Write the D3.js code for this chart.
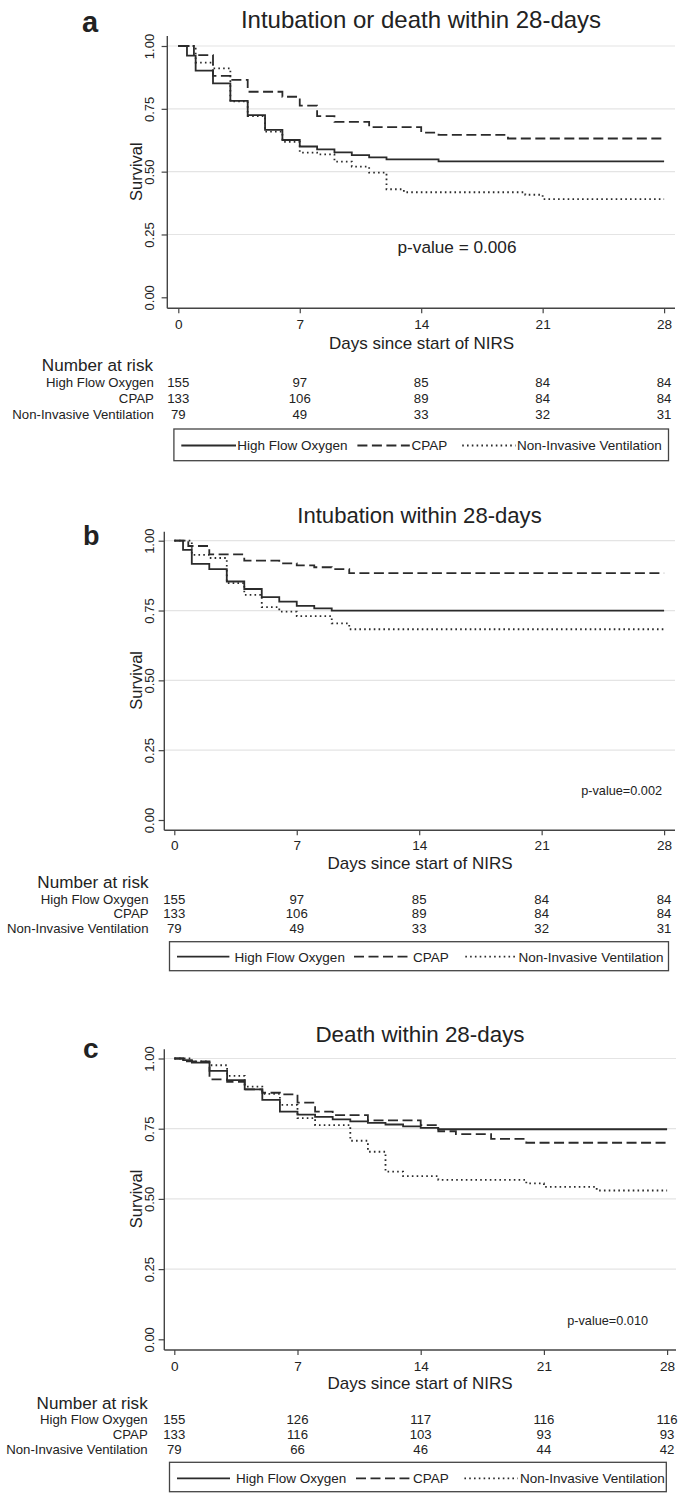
<!DOCTYPE html>
<html><head><meta charset="utf-8">
<script src="https://cdn.jsdelivr.net/npm/d3@7"></script>
<style>
html,body{margin:0;padding:0;background:#fff;}
svg{display:block;}
text{font-family:"Liberation Sans",Arial,sans-serif;fill:#222;}
</style></head>
<body>
<script>
// ---------------- DATA ----------------
const groups = ["High Flow Oxygen", "CPAP", "Non-Invasive Ventilation"];
const xTicks = [0, 7, 14, 21, 28];
const yTicks = [0, 0.25, 0.5, 0.75, 1];
const panelLetters = ["a", "b", "c"];
const panelTitles = ["Intubation or death within 28-days", "Intubation within 28-days", "Death within 28-days"];
const pValues = ["p-value = 0.006", "p-value=0.002", "p-value=0.010"];
const xLabel = "Days since start of NIRS";
const yLabel = "Survival";
const riskTitle = "Number at risk";

// Panel a: intubation or death
const hfoA  = [[0,1],[0.5,0.962],[1,0.902],[2,0.851],[3,0.782],[4,0.725],[5,0.666],[6,0.626],[7,0.600],[8,0.589],[9,0.577],[10,0.566],[11,0.557],[12,0.549],[15,0.541]];
const cpapA = [[0,1],[0.9,0.964],[2,0.881],[3,0.865],[4,0.818],[6,0.798],[7,0.763],[8,0.721],[9,0.698],[11,0.677],[14,0.655],[15,0.646],[19,0.632]];
const nivA  = [[0,1],[1,0.934],[2,0.911],[3,0.780],[4,0.721],[5,0.659],[6,0.619],[7,0.576],[8,0.569],[9,0.540],[10,0.520],[11,0.496],[12,0.430],[13,0.418],[20,0.408],[21,0.391]];
// Panel b: intubation
const hfoB  = [[0,1],[0.5,0.967],[1,0.917],[2,0.898],[3,0.854],[4,0.827],[5,0.798],[6,0.782],[7,0.767],[8,0.758],[9,0.750]];
const cpapB = [[0,1],[0.8,0.981],[2,0.951],[4,0.929],[6,0.919],[7,0.912],[8,0.905],[9,0.898],[10,0.884]];
const nivB  = [[0,1],[1,0.949],[2,0.938],[3,0.848],[4,0.806],[5,0.762],[6,0.746],[7,0.730],[9,0.704],[10,0.683]];
// Panel c: death
const hfoC  = [[0,1],[0.5,0.994],[1,0.985],[2,0.956],[3,0.923],[4,0.890],[5,0.853],[6,0.811],[7,0.800],[8,0.792],[9,0.783],[10,0.776],[11,0.771],[12,0.765],[13,0.758],[14,0.753],[15,0.748]];
const cpapC = [[0,1],[0.5,0.990],[2,0.926],[3,0.917],[4,0.890],[5,0.878],[6,0.872],[7,0.843],[8,0.811],[9,0.798],[11,0.780],[14,0.763],[15,0.741],[16,0.731],[18,0.714],[20,0.700]];
const nivC  = [[0,1],[1,0.990],[2,0.976],[3,0.938],[4,0.900],[5,0.874],[6,0.835],[7,0.788],[8,0.763],[10,0.707],[11,0.668],[12,0.597],[13,0.581],[15,0.568],[20,0.555],[21,0.543],[24,0.530]];

// Number at risk (rows: HFO, CPAP, NIV; columns: days 0,7,14,21,28)
const riskA = [[155,97,85,84,84],[133,106,89,84,84],[79,49,33,32,31]];
const riskB = [[155,97,85,84,84],[133,106,89,84,84],[79,49,33,32,31]];
const riskC = [[155,126,117,116,116],[133,116,103,93,93],[79,66,46,44,42]];

// ---------------- LAYOUT ----------------
const W = 685, H = 1500;
const lineStyles = [
  {dash: null, width: 1.8},
  {dash: "10,4.5", width: 1.8},
  {dash: "1.6,3.2", width: 1.8}
];
const panels = [
  {series:[hfoA,cpapA,nivA], risk:riskA,
   axisX:167.3, right:675, xr:[178.3,664.1], yr:[297.3,46], top:36, xAxisY:308.3,
   letter:{x:82,y:32,size:29}, title:{x:421,y:28,size:24},
   p:{x:457,y:253,size:17.2,anchor:"middle"},
   ytickK:13.5, survX:142, xtickY:329.5, xlabY:349, xlabX:421.6, xlabSize:17, tickSize:13.6,
   riskTitle:{x:153,y:370.7,size:17.1}, rowX:153.8, rowY:[387.3,403.3,419.3], rowSize:13.2,
   legend:{x0:173.9,x1:668.5,y0:429,y1:460.7,ty:450,ly:445.5,
           segs:[[181.3,236,237.2],[357.4,409.8,411.6],[462.2,515.5,516.9]], size:13.5}},
  {series:[hfoB,cpapB,nivB], risk:riskB,
   axisX:164.3, right:675, xr:[174.3,664.1], yr:[820,540.7], top:531.7, xAxisY:830.3,
   letter:{x:83,y:545,size:27}, title:{x:419.5,y:523.3,size:22.1},
   p:{x:662,y:795,size:12.7,anchor:"end"},
   ytickK:10.5, survX:142, xtickY:850.5, xlabY:868.5, xlabX:420, xlabSize:17, tickSize:13.6,
   riskTitle:{x:148.5,y:888.3,size:17.1}, rowX:148.5, rowY:[904,918.3,933.3], rowSize:13.2,
   legend:{x0:169.5,x1:668.5,y0:941.7,y1:970.7,ty:961.7,ly:956.7,
           segs:[[177,229.4,234.6],[354,408.5,412.9],[465.3,517.7,518.6]], size:13.5}},
  {series:[hfoC,cpapC,nivC], risk:riskC,
   axisX:164.3, right:676, xr:[174.3,667.1], yr:[1339.3,1058.5], top:1049.3, xAxisY:1350,
   letter:{x:83,y:1058,size:28}, title:{x:420,y:1041.7,size:22.4},
   p:{x:648,y:1325,size:12.7,anchor:"end"},
   ytickK:10.5, survX:142, xtickY:1370.5, xlabY:1388.8, xlabX:420, xlabSize:17, tickSize:13.6,
   riskTitle:{x:147.7,y:1409,size:17.1}, rowX:147.7, rowY:[1424,1439.3,1454], rowSize:13.2,
   legend:{x0:169.5,x1:666.3,y0:1462.3,y1:1491.7,ty:1482.7,ly:1478.3,
           segs:[[177,230,236],[356,409.4,413],[464.4,517.7,520]], size:13.5}}
];

const svg = d3.select("body").append("svg").attr("width", W).attr("height", H);
svg.append("rect").attr("width", W).attr("height", H).attr("fill", "#fff");

panels.forEach((P, i) => {
  const g = svg.append("g");
  const x = d3.scaleLinear().domain([0, 28]).range(P.xr);
  const y = d3.scaleLinear().domain([0, 1]).range(P.yr);

  // gridlines
  g.selectAll(".grid").data(yTicks.filter(d => d > 0)).join("line")
    .attr("x1", P.axisX).attr("x2", P.right)
    .attr("y1", d => y(d)).attr("y2", d => y(d))
    .attr("stroke", "#e4e4e4").attr("stroke-width", 1.2);

  // y axis
  const ya = g.append("g").attr("transform", `translate(${P.axisX},0)`)
    .call(d3.axisLeft(y).tickValues(yTicks).tickFormat(d3.format(".2f")).tickSize(5.7).tickSizeOuter(0));
  ya.select(".domain").remove();
  ya.append("line").attr("x1", 0).attr("x2", 0).attr("y1", P.top).attr("y2", P.xAxisY)
    .attr("stroke", "#444").attr("stroke-width", 1.4);
  ya.selectAll(".tick line").attr("stroke", "#444").attr("stroke-width", 1.2);
  ya.selectAll(".tick text")
    .attr("transform", "rotate(-90)").attr("x", 0).attr("y", -P.ytickK).attr("dy", 0)
    .attr("text-anchor", "middle").style("font-size", "13px")
    .style("font-family", "'Liberation Sans',Arial,sans-serif").attr("fill", "#333");

  // x axis
  const xa = g.append("g").attr("transform", `translate(0,${P.xAxisY})`)
    .call(d3.axisBottom(x).tickValues(xTicks).tickSize(5).tickSizeOuter(0));
  xa.select(".domain").remove();
  xa.append("line").attr("x1", P.axisX).attr("x2", P.right).attr("y1", 0).attr("y2", 0)
    .attr("stroke", "#444").attr("stroke-width", 1.4);
  xa.selectAll(".tick line").attr("stroke", "#444").attr("stroke-width", 1.2);
  xa.selectAll(".tick text").attr("y", P.xtickY - P.xAxisY).attr("dy", 0)
    .style("font-size", P.tickSize + "px")
    .style("font-family", "'Liberation Sans',Arial,sans-serif").attr("fill", "#333");

  // axis titles
  const midY = (P.yr[0] + P.yr[1]) / 2;
  g.append("text").attr("transform", `translate(${P.survX},${midY}) rotate(-90)`)
    .attr("text-anchor", "middle").style("font-size", "16.5px").text(yLabel);
  g.append("text").attr("x", P.xlabX).attr("y", P.xlabY).attr("text-anchor", "middle")
    .style("font-size", P.xlabSize + "px").text(xLabel);

  // title and letter
  g.append("text").attr("x", P.title.x).attr("y", P.title.y).attr("text-anchor", "middle")
    .style("font-size", P.title.size + "px").text(panelTitles[i]);
  g.append("text").attr("x", P.letter.x).attr("y", P.letter.y)
    .style("font-size", P.letter.size + "px").style("font-weight", "bold").attr("fill", "#000")
    .text(panelLetters[i]);

  // curves
  const line = d3.line().x(d => x(d[0])).y(d => y(d[1])).curve(d3.curveStepAfter);
  P.series.forEach((s, k) => {
    const pts = s.concat([[28, s[s.length - 1][1]]]);
    const path = g.append("path").datum(pts).attr("d", line)
      .attr("fill", "none").attr("stroke", "#2b2b2b")
      .attr("stroke-width", lineStyles[k].width);
    if (lineStyles[k].dash) path.attr("stroke-dasharray", lineStyles[k].dash);
  });

  // p-value
  g.append("text").attr("x", P.p.x).attr("y", P.p.y).attr("text-anchor", P.p.anchor)
    .style("font-size", P.p.size + "px").text(pValues[i]);

  // risk table
  g.append("text").attr("x", P.riskTitle.x).attr("y", P.riskTitle.y).attr("text-anchor", "end")
    .style("font-size", P.riskTitle.size + "px").text(riskTitle);
  groups.forEach((name, r) => {
    g.append("text").attr("x", P.rowX).attr("y", P.rowY[r]).attr("text-anchor", "end")
      .style("font-size", P.rowSize + "px").text(name);
    g.selectAll(null).data(P.risk[r]).join("text")
      .attr("x", (d, j) => x(xTicks[j])).attr("y", P.rowY[r]).attr("text-anchor", "middle")
      .style("font-size", P.rowSize + "px").text(d => d);
  });

  // legend
  const L = P.legend;
  g.append("rect").attr("x", L.x0).attr("y", L.y0).attr("width", L.x1 - L.x0).attr("height", L.y1 - L.y0)
    .attr("fill", "none").attr("stroke", "#444").attr("stroke-width", 1.3);
  L.segs.forEach((sg, k) => {
    const ln = g.append("line").attr("x1", sg[0]).attr("x2", sg[1]).attr("y1", L.ly).attr("y2", L.ly)
      .attr("stroke", "#2b2b2b").attr("stroke-width", lineStyles[k].width);
    if (lineStyles[k].dash) ln.attr("stroke-dasharray", lineStyles[k].dash);
    g.append("text").attr("x", sg[2]).attr("y", L.ty).style("font-size", L.size + "px").text(groups[k]);
  });
});
</script>
</body></html>
